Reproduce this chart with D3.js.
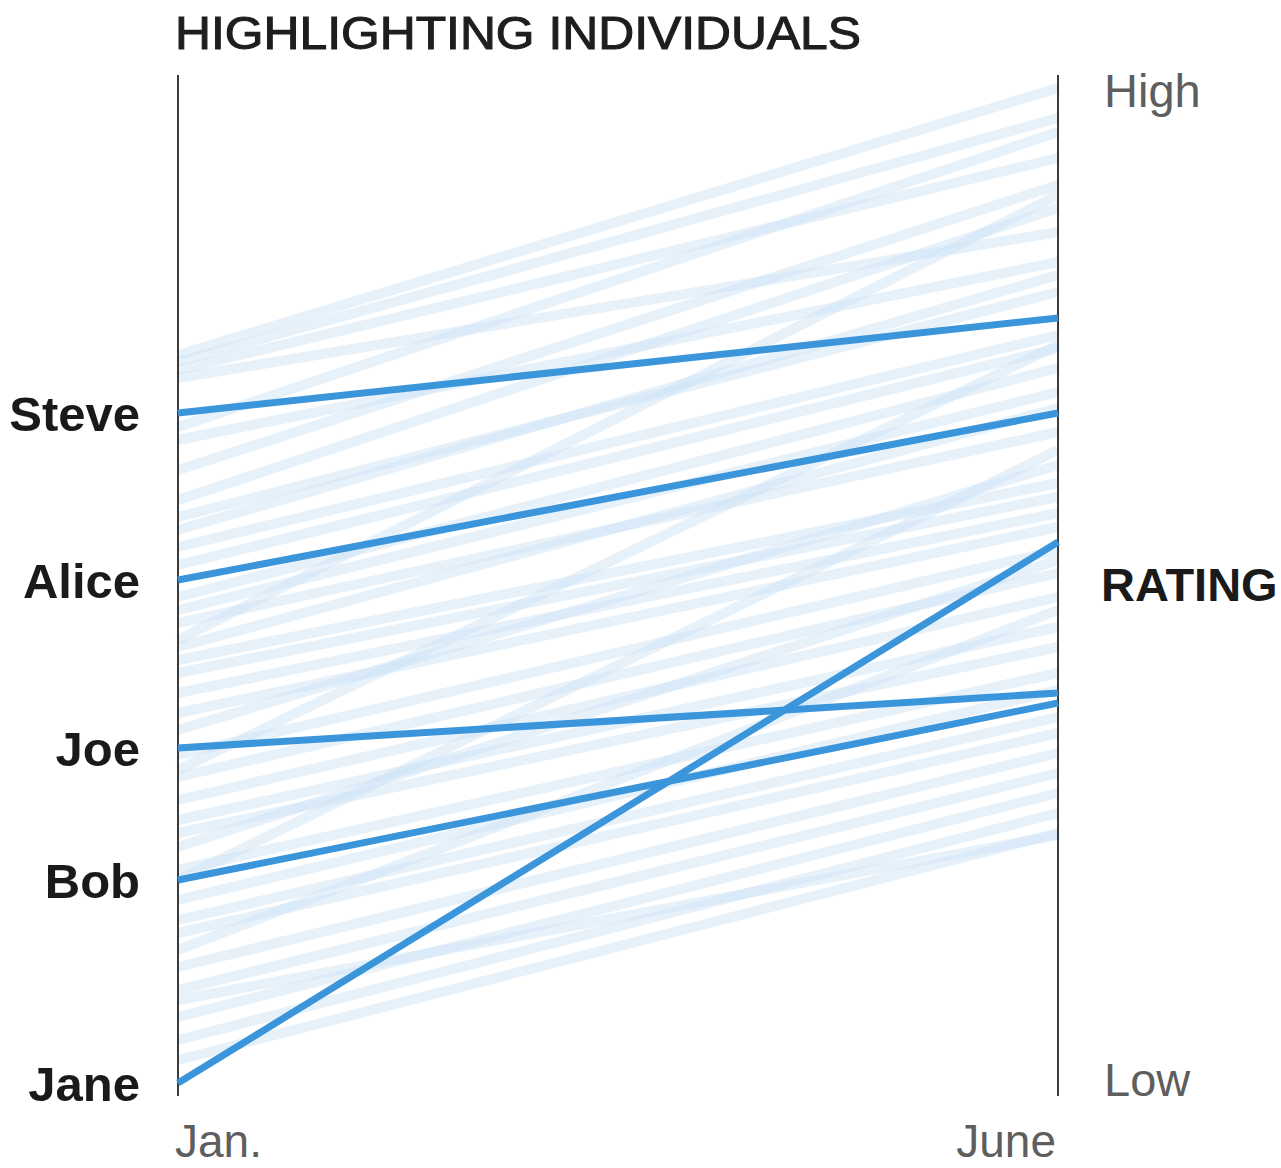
<!DOCTYPE html>
<html>
<head>
<meta charset="utf-8">
<script src="https://cdn.jsdelivr.net/npm/d3@7"></script>
<style>
  html, body { margin: 0; padding: 0; background: #fff; }
  svg { display: block; }
  .bold { font-family: "Liberation Sans", Arial, sans-serif; font-weight: 700; fill: #1a1a1a; }
  .light { font-family: "Liberation Sans", Arial, sans-serif; font-weight: 400; fill: #5e5e5e; }
</style>
</head>
<body>
<script>
// Time points on the horizontal axis
const periods = ["Jan.", "June"];

// Highlighted individuals: rating in January and June (0 = Low, 100 = High)
const names    = ["Steve", "Alice", "Joe", "Bob", "Jane"];
const janHigh  = [67.2, 50.5, 33.7, 20.5, 0.2];
const juneHigh = [76.7, 67.2, 39.2, 38.2, 54.3];

// Everyone else, drawn faintly in the background
const janRest  = [73.0, 72.3, 71.5, 70.7, 65.8, 64.5, 61.5, 58.5, 56.8, 55.5,
                  53.8, 52.0, 48.8, 47.5, 46.2, 43.8, 42.5, 41.2, 39.2, 37.2,
                  35.5, 33.0, 30.8, 28.5, 26.5, 25.2, 23.8, 21.5, 18.5, 16.5,
                  15.2, 11.8, 9.5, 6.8, 4.5, 2.5, 8.5, 13.5, 20.5, 44.5, 31.5];
const juneRest = [99.7, 96.7, 92.7, 85.3, 95.3, 82.3, 90.0, 87.7, 79.3, 81.0,
                  75.0, 73.7, 71.7, 69.3, 65.3, 67.7, 60.2, 58.8, 57.2, 55.8,
                  62.0, 53.5, 51.2, 48.8, 45.8, 43.8, 52.5, 41.2, 39.5, 36.8,
                  35.2, 33.2, 31.2, 29.2, 27.2, 25.2, 25.0, 47.5, 63.5, 89.0, 74.0];

// Vertical scale end labels
const scaleTop = "High";
const scaleBottom = "Low";
const scaleTitle = "RATING";
const chartTitle = "HIGHLIGHTING INDIVIDUALS";

const W = 1281, H = 1168;
const svg = d3.select("body").append("svg").attr("width", W).attr("height", H);

const x = d3.scalePoint().domain(periods).range([178, 1058]);
const y = d3.scaleLinear().domain([0, 100]).range([1085, 85]);

const line = d3.line().x(d => x(d[0])).y(d => y(d[1]));

// Background lines
const rest = janRest.map((v, i) => [[periods[0], v], [periods[1], juneRest[i]]]);
svg.append("g")
  .selectAll("path")
  .data(rest)
  .join("path")
  .attr("d", line)
  .attr("fill", "none")
  .attr("stroke", "#cde3f6")
  .attr("stroke-opacity", 0.5)
  .attr("stroke-width", 10);

// Axes (plain vertical rules at each period)
periods.forEach(p => {
  svg.append("line")
    .attr("x1", x(p)).attr("x2", x(p))
    .attr("y1", 75).attr("y2", 1096)
    .attr("stroke", "#3a3a3a")
    .attr("stroke-width", 2);
});

// Highlighted lines
const hi = names.map((n, i) => [[periods[0], janHigh[i]], [periods[1], juneHigh[i]]]);
svg.append("g")
  .selectAll("path")
  .data(hi)
  .join("path")
  .attr("d", line)
  .attr("fill", "none")
  .attr("stroke", "#3b95db")
  .attr("stroke-width", 7);

// Name labels at January values
svg.append("g")
  .selectAll("text")
  .data(names)
  .join("text")
  .attr("class", "bold")
  .attr("x", 140)
  .attr("y", (d, i) => y(janHigh[i]))
  .attr("dy", "0.36em")
  .attr("text-anchor", "end")
  .attr("font-size", 49)
  .text(d => d);

// Title (medium weight: regular glyphs with a thin outline)
svg.append("text")
  .attr("x", 175).attr("y", 49)
  .attr("font-family", "'Liberation Sans', Arial, sans-serif")
  .attr("font-size", 47)
  .attr("textLength", 686)
  .attr("lengthAdjust", "spacingAndGlyphs")
  .attr("fill", "#1e1e1e")
  .attr("stroke", "#1e1e1e")
  .attr("stroke-width", 1.1)
  .text(chartTitle);

// Right-hand scale labels
svg.append("text").attr("class", "light")
  .attr("x", 1104).attr("y", 107).attr("font-size", 47).text(scaleTop);
svg.append("text").attr("class", "light")
  .attr("x", 1104).attr("y", 1096).attr("font-size", 47).text(scaleBottom);
svg.append("text").attr("class", "bold")
  .attr("x", 1101).attr("y", 601).attr("font-size", 47).text(scaleTitle);

// Period labels
svg.append("text").attr("class", "light")
  .attr("x", x(periods[0]) - 3).attr("y", 1157).attr("font-size", 46)
  .attr("text-anchor", "start").text(periods[0]);
svg.append("text").attr("class", "light")
  .attr("x", x(periods[1]) - 2).attr("y", 1157).attr("font-size", 46)
  .attr("text-anchor", "end").text(periods[1]);
</script>
</body>
</html>
